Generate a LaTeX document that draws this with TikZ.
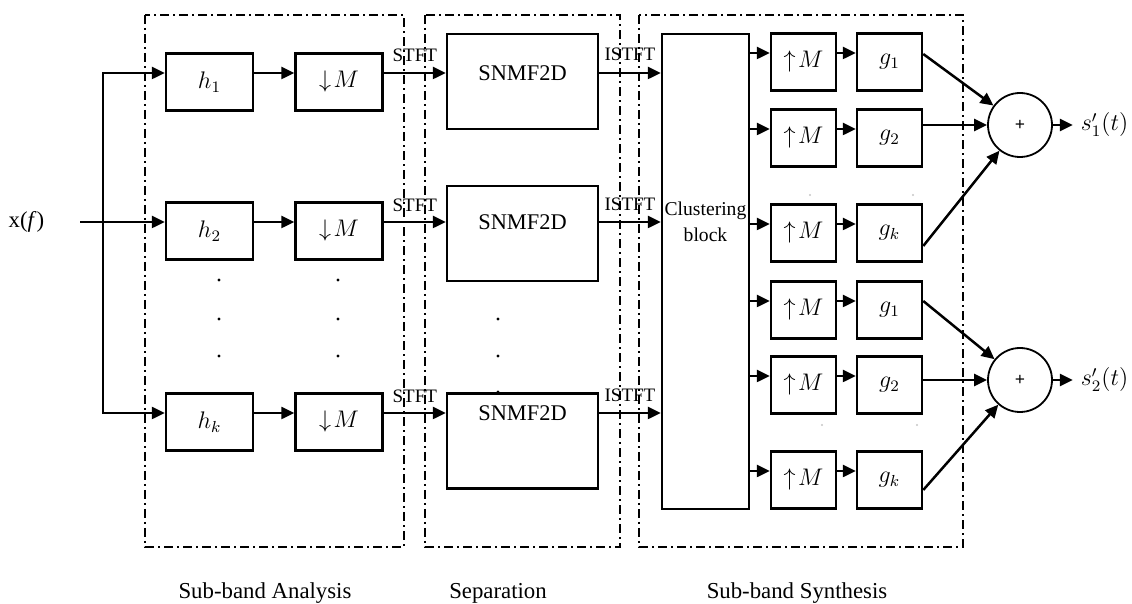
\documentclass[tikz,border=0pt]{standalone}
\usepackage{fontspec}
\setmainfont{Liberation Serif}
\usetikzlibrary{positioning, arrows.meta}

\begin{document}
\begin{tikzpicture}[x=0.5pt, y=-0.5pt, line width=1.25pt, >={Triangle[length=6.5pt, width=6pt]},
    blk/.style={draw, rectangle, minimum height=28.5pt, inner sep=0pt, font=\fontsize{11.5}{13}\selectfont},
    anabox/.style={blk, minimum width=43.5pt},
    synbox/.style={blk, minimum width=32.5pt},
    sepbox/.style={draw, rectangle, minimum width=75.5pt, minimum height=47.5pt},
    septxt/.style={font=\fontsize{11.2}{13}\selectfont, inner sep=0pt},
    frame/.style={line width=1pt, dash pattern=on 4.5pt off 2pt on 1pt off 2pt},
    tag/.style={font=\fontsize{9.5}{11}\selectfont, inner sep=1pt},
    caption/.style={font=\fontsize{11.4}{13}\selectfont},
    sumnode/.style={draw, circle, line width=0.9pt, minimum size=32pt, inner sep=0pt, font=\bfseries\fontsize{9}{10}\selectfont}]
    \useasboundingbox (0,0) rectangle (1132,604);

    % stage frames
    \draw[frame] (145,15) rectangle (404,547);
    \draw[frame] (425,15) rectangle (620,547);
    \draw[frame] (639,15) rectangle (963,547);

    % signal rows
    \coordinate (r1) at (0,73);
    \coordinate (r2) at (0,222);
    \coordinate (r3) at (0,413);

    % sub-band analysis
    \node[anabox] (h1) at (209.5,82) {$h_1$};
    \node[anabox] (d1) at (339,82) {$\downarrow\! M$};
    \node[anabox] (h2) at (209.5,231) {$h_2$};
    \node[anabox] (d2) at (339,231) {$\downarrow\! M$};
    \node[anabox] (hk) at (209.5,422) {$h_k$};
    \node[anabox] (dk) at (339,422) {$\downarrow\! M$};

    % separation
    \node[sepbox] (sep1) at (522.5,81.5) {};
    \node[sepbox] (sep2) at (522.5,233.5) {};
    \node[sepbox] (sep3) at (522.5,441) {};
    \node[septxt] (sep1txt) at (sep1 |- r1) {SNMF2D};
    \node[septxt] (sep2txt) at (sep2 |- r2) {SNMF2D};
    \node[septxt] (sep3txt) at (sep3 |- r3) {SNMF2D};

    % clustering
    \node[draw, minimum width=43.5pt, minimum height=237.5pt] (clust) at (705.5,271.5) {};
    \node[tag, align=center, font=\fontsize{9.8}{13}\selectfont] (clusttxt) at (clust |- r2) {Clustering\\block};

    % input
    \node[caption] (xin) at (26.5,222) {x(\textit{f})};
    \coordinate (src) at (80,222);
    \coordinate (split) at (103,222);
    \draw[->] (src) -- (h2.west |- r2);
    \draw[->] (split) |- (h1.west |- r1);
    \draw[->] (split) |- (hk.west |- r3);

    \draw[->] (h1.east |- r1) -- (d1.west |- r1);
    \draw[->] (h2.east |- r2) -- (d2.west |- r2);
    \draw[->] (hk.east |- r3) -- (dk.west |- r3);
    \draw[->] (d1.east |- r1) -- node[tag, above=4pt] (stft1) {STFT} (sep1.west |- r1);
    \draw[->] (d2.east |- r2) -- node[tag, above=3.5pt] (stft2) {STFT} (sep2.west |- r2);
    \draw[->] (dk.east |- r3) -- node[tag, above=3.5pt] (stft3) {STFT} (sep3.west |- r3);
    \draw[->] (sep1.east |- r1) -- node[tag, above=4.5pt] (istft1) {ISTFT} (clust.west |- r1);
    \draw[->] (sep2.east |- r2) -- node[tag, above=4pt] (istft2) {ISTFT} (clust.west |- r2);
    \draw[->] (sep3.east |- r3) -- node[tag, above=4pt] (istft3) {ISTFT} (clust.west |- r3);

    % ellipsis dots
    \foreach \x in {219,338}
        \foreach \y in {280,319,356}
            \fill (\x,\y) circle[radius=0.8pt];
    \foreach \y in {319,356,392}
        \fill (498,\y) circle[radius=0.8pt];
    \foreach \x/\y in {810/195,913/195,822/425,917/425}
        \fill[gray!45] (\x,\y) circle[radius=0.6pt];

    % sub-band synthesis
    \foreach \y/\s [count=\i] in {62/1,138/2,233/k,310/1,385/2,480/k} {
        \node[synbox] (u\i) at (803.5,\y) {$\uparrow\! M$};
        \node[synbox] (g\i) at (889.5,\y) {$g_{\s}$};
        \coordinate (c\i) at ([yshift=4.5pt]u\i.west);
        \draw[->] (c\i -| clust.east) -- (c\i);
        \draw[->] ([yshift=4.5pt]u\i.east) -- ([yshift=4.5pt]g\i.west);
    }

    % adders
    \node[sumnode] (sum1) at (1020,125) {+};
    \node[sumnode] (sum2) at (1020,380) {+};
    \draw[->] ([yshift=4pt]g1.east) -- (sum1);
    \draw[->] (g2.east |- sum1) -- (sum1);
    \draw[->] ([yshift=-6.5pt]g3.east) -- (sum1);
    \draw[->] ([yshift=4.5pt]g4.east) -- (sum2);
    \draw[->] (g5.east |- sum2) -- (sum2);
    \draw[->] ([yshift=-5pt]g6.east) -- (sum2);

    \node[right=10pt of sum1, font=\fontsize{12}{14}\selectfont] (out1) {$s_1'(t)$};
    \node[right=10pt of sum2, font=\fontsize{12}{14}\selectfont] (out2) {$s_2'(t)$};
    \draw[->] (sum1) -- (out1);
    \draw[->] (sum2) -- (out2);

    % stage captions
    \node[caption] (capana) at (265,593) {Sub-band Analysis};
    \node[caption] (capsep) at (498,593) {Separation};
    \node[caption] (capsyn) at (797,593) {Sub-band Synthesis};
\end{tikzpicture}
\end{document}
